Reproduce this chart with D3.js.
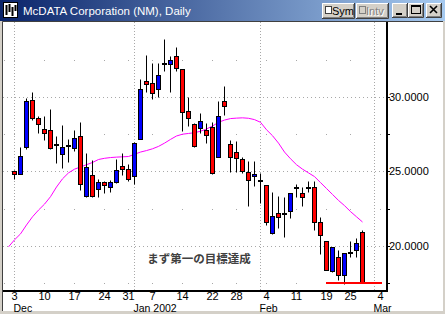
<!DOCTYPE html>
<html>
<head>
<meta charset="utf-8">
<script src="https://cdn.jsdelivr.net/npm/d3@7"></script>
<style>
  html, body { margin: 0; padding: 0; background: #d4d0c8; }
  svg { display: block; }
</style>
</head>
<body>
<div id="chart"></div>
<script>
// --- trading days (Nov 30 is only used by the moving average) ---
const novDays = [30]
const decDays = [3, 4, 5, 6, 7, 10, 11, 12, 13, 14, 17, 18, 19, 20, 21, 24, 26, 27, 28, 31]
const janDays = [2, 3, 4, 7, 8, 9, 10, 11, 14, 15, 16, 17, 18, 22, 23, 24, 25, 28, 29, 30, 31]
const febDays = [1, 4, 5, 6, 7, 8, 11, 12, 13, 14, 15, 19, 20, 21, 22, 25, 26, 27, 28]
const marDays = [1, 4]

const pad = n => String(n).padStart(2, '0')
const days = [
  ...novDays.map(d => '2001-11-' + pad(d)),
  ...decDays.map(d => '2001-12-' + pad(d)),
  ...janDays.map(d => '2002-01-' + pad(d)),
  ...febDays.map(d => '2002-02-' + pad(d)),
  ...marDays.map(d => '2002-03-' + pad(d))
]
const candleDays = days.slice(1, 60)  // Dec 3 .. Feb 27

// --- OHLC ---
const opens = [25.03, 24.83, 26.67, 29.80, 28.57, 27.85, 27.79, 26.78, 26.17, 26.70,
  26.56, 27.36, 23.36, 24.77, 23.80, 24.28, 23.94, 24.28, 25.37, 25.15,
  24.70, 27.16, 31.07, 30.92, 30.52, 32.21, 32.24, 32.75, 31.86, 29.06,
  28.17, 27.90, 27.79, 28.00, 25.99, 29.73, 26.85, 26.33, 25.84, 24.99,
  24.70, 24.38, 24.09, 20.89, 22.19, 22.13, 22.35, 23.86, 23.54, 23.87,
  23.94, 21.59, 20.34, 18.28, 19.28, 18.05, 19.51, 19.73, 20.92]
const highs = [25.10, 26.67, 29.95, 30.34, 28.72, 28.72, 29.20, 27.40, 28.12, 27.16,
  27.79, 28.34, 26.22, 25.77, 24.48, 24.35, 24.43, 25.82, 26.22, 25.50,
  26.95, 31.20, 32.82, 32.30, 32.30, 33.90, 32.77, 33.38, 31.86, 29.98,
  28.25, 28.90, 28.28, 28.34, 29.73, 30.74, 27.11, 27.05, 26.00, 25.67,
  25.67, 24.88, 24.09, 23.64, 23.38, 23.31, 23.58, 24.14, 23.94, 24.36,
  24.38, 21.93, 20.34, 19.91, 19.73, 19.51, 20.34, 20.52, 21.03]
const lows = [24.50, 24.80, 26.50, 28.46, 27.56, 27.11, 26.50, 25.57, 25.26, 25.60,
  26.40, 23.76, 23.27, 23.30, 23.27, 23.54, 23.60, 24.20, 24.77, 24.36,
  24.16, 27.16, 30.31, 29.87, 30.02, 31.77, 30.36, 31.74, 27.74, 28.05,
  26.66, 27.56, 26.89, 24.85, 25.99, 28.79, 24.99, 24.99, 24.90, 22.68,
  24.03, 22.87, 21.41, 20.79, 21.19, 20.56, 21.86, 23.31, 22.68, 23.60,
  21.03, 19.44, 18.39, 18.24, 17.72, 17.45, 19.28, 19.28, 17.50]
const closes = [24.80, 26.04, 29.73, 28.61, 28.17, 27.56, 26.56, 26.78, 26.62, 26.70,
  27.23, 24.14, 25.32, 23.38, 24.28, 24.10, 24.30, 25.10, 25.15, 24.50,
  26.89, 30.52, 30.85, 30.25, 31.48, 32.21, 32.48, 31.93, 28.97, 28.57,
  26.73, 28.39, 27.45, 24.88, 28.72, 29.42, 25.99, 25.93, 25.03, 24.43,
  24.81, 24.38, 21.63, 21.97, 21.93, 22.13, 23.58, 23.86, 23.27, 23.87,
  21.59, 20.74, 18.39, 19.91, 18.05, 19.51, 19.51, 20.22, 17.54]

// moving average, Nov 30 .. Feb 27
const maValues = [19.93,
  20.40, 20.80, 21.40, 21.95, 22.40, 22.80, 23.30, 23.95, 24.50, 24.90,
  25.15, 25.30, 25.45, 25.60, 25.80, 25.88, 25.93, 25.96, 25.98, 26.00,
  26.15, 26.30, 26.40, 26.52, 26.68, 26.90, 27.15, 27.38, 27.50, 27.55,
  27.60, 27.70, 27.85, 28.05, 28.30, 28.45, 28.55, 28.58, 28.60, 28.57,
  28.48, 28.30, 27.80, 27.40, 26.90, 26.30, 25.85, 25.45, 25.15, 24.90,
  24.65, 24.25, 23.85, 23.45, 23.05, 22.70, 22.30, 21.95, 21.60]

const weekStarts = ['2001-12-03', '2001-12-10', '2001-12-17', '2001-12-24', '2001-12-31',
  '2002-01-07', '2002-01-14', '2002-01-22', '2002-01-28', '2002-02-04', '2002-02-11',
  '2002-02-19', '2002-02-25', '2002-03-04']
const monthStarts = ['2001-12-03', '2002-01-02', '2002-02-01', '2002-03-01']
const monthLabels = ['Dec', 'Jan 2002', 'Feb', 'Mar']
const majorLevels = [20, 25, 30]
const minorLevels = [17.5, 22.5, 27.5, 32.5]

const support = { from: '2002-02-19', to: '2002-03-04', price: 17.5 }
const note = { text: 'まず第一の目標達成', day: '2002-01-17', price: 19.15 }
const title = 'McDATA Corporation (NM), Daily'

// --- layout ---
const width = 445
const height = 314
const plot = { left: 3, top: 22, right: 387, bottom: 291 }
const font = '"Liberation Sans", Arial, sans-serif'

const svg = d3.select('#chart').append('svg')
  .attr('width', width)
  .attr('height', height)

// --- window chrome ---
const grad = svg.append('defs').append('linearGradient').attr('id', 'tb')
grad.append('stop').attr('offset', '0%').attr('stop-color', '#0a246a')
grad.append('stop').attr('offset', '100%').attr('stop-color', '#a6caf0')

svg.append('rect').attr('width', width).attr('height', height).attr('fill', '#d4d0c8')
svg.append('rect').attr('width', width).attr('height', 21).attr('fill', 'url(#tb)')

const icon = svg.append('g')
icon.append('rect').attr('x', 3.5).attr('y', 2.5).attr('width', 14).attr('height', 15)
  .attr('fill', '#fff').attr('stroke', '#000')
icon.append('path')
  .attr('d', 'M6.5,5V15M9.5,4V12M12.5,7V16M15.5,5V11')
  .attr('stroke', '#000').attr('stroke-width', 2)

svg.append('text')
  .attr('x', 23).attr('y', 15)
  .attr('fill', '#fff')
  .style('font', '11.5px ' + font)
  .text(title)

function button(bx, by, bw, bh) {
  const g = svg.append('g')
  g.append('rect').attr('x', bx).attr('y', by).attr('width', bw).attr('height', bh).attr('fill', '#d4d0c8')
  g.append('path').attr('d', `M${bx + 0.5},${by + bh - 1}V${by + 0.5}H${bx + bw - 1}`)
    .attr('stroke', '#fff').attr('fill', 'none')
  g.append('path').attr('d', `M${bx},${by + bh - 0.5}H${bx + bw - 0.5}V${by}`)
    .attr('stroke', '#404040').attr('fill', 'none')
  g.append('path').attr('d', `M${bx + 1},${by + bh - 1.5}H${bx + bw - 1.5}V${by + 1}`)
    .attr('stroke', '#808080').attr('fill', 'none')
  return g
}

const sym = button(322, 3, 33, 16)
sym.append('rect').attr('x', 325.5).attr('y', 6.5).attr('width', 6).attr('height', 7)
  .attr('fill', '#fff').attr('stroke', '#404040')
sym.append('text').attr('x', 332).attr('y', 15).style('font', '11px ' + font).text('Sym')

const intv = button(356, 3, 33, 16)
intv.append('rect').attr('x', 359.5).attr('y', 6.5).attr('width', 6).attr('height', 7)
  .attr('fill', '#d4d0c8').attr('stroke', '#808080')
intv.append('text').attr('x', 367).attr('y', 16).attr('fill', '#fff').style('font', '11px ' + font).text('Intv')
intv.append('text').attr('x', 366).attr('y', 15).attr('fill', '#808080').style('font', '11px ' + font).text('Intv')

const minB = button(392, 3, 16, 15)
minB.append('rect').attr('x', 396).attr('y', 13).attr('width', 6).attr('height', 2).attr('fill', '#000')
const maxB = button(408, 3, 16, 15)
maxB.append('rect').attr('x', 411.5).attr('y', 5.5).attr('width', 9).attr('height', 8)
  .attr('fill', 'none').attr('stroke', '#000')
maxB.append('rect').attr('x', 411).attr('y', 5).attr('width', 10).attr('height', 2).attr('fill', '#000')
const closeB = button(426, 3, 16, 15)
closeB.append('path').attr('d', 'M430,6L437,13M437,6L430,13')
  .attr('stroke', '#000').attr('stroke-width', 1.6)

// --- chart panel ---
svg.append('rect').attr('x', plot.left).attr('y', plot.top)
  .attr('width', 440).attr('height', 289).attr('fill', '#fff')
svg.append('path').attr('d', `M2.5,311V21.5H443`).attr('stroke', '#404040').attr('fill', 'none')

const x = d3.scalePoint()
  .domain(days)
  .range([8.5, 8.5 + 6 * (days.length - 1)])

const y = d3.scaleLinear()
  .domain([17.5, 30])
  .range([283, 97])

const py = v => Math.round(y(v)) + 0.5

// --- grid ---
const grid = svg.append('g').attr('stroke', '#a8a8a8').attr('fill', 'none')
grid.selectAll('.major')
  .data(majorLevels)
  .join('line')
    .attr('x1', plot.left).attr('x2', plot.right - 1)
    .attr('y1', d => py(d)).attr('y2', d => py(d))
    .attr('stroke-dasharray', '1,3')
grid.selectAll('.month')
  .data(monthStarts)
  .join('line')
    .attr('x1', d => x(d)).attr('x2', d => x(d))
    .attr('y1', plot.top).attr('y2', plot.bottom - 1)
    .attr('stroke-dasharray', '1,2')

const dotXs = [4].concat(weekStarts.map(d => x(d) - 0.5))
const dots = []
minorLevels.forEach(v => dotXs.forEach(dx => dots.push([dx, v])))
svg.append('g').selectAll('rect')
  .data(dots)
  .join('rect')
    .attr('x', d => d[0]).attr('y', d => Math.round(y(d[1])))
    .attr('width', 1).attr('height', 1)
    .attr('fill', '#a8a8a8')

// --- moving average ---
const line = d3.line()
  .x((d, i) => x(days[i]))
  .y(d => y(d))
svg.append('path')
  .datum(maValues)
  .attr('d', line)
  .attr('fill', 'none')
  .attr('stroke', '#ff00ff')
  .attr('stroke-width', 1)

// --- candles ---
const candles = candleDays.map((d, i) => ({
  day: d, o: opens[i], h: highs[i], l: lows[i], c: closes[i]
}))

const cg = svg.append('g')
const candle = cg.selectAll('g')
  .data(candles)
  .join('g')

candle.append('line')
  .attr('x1', d => x(d.day)).attr('x2', d => x(d.day))
  .attr('y1', d => py(d.h)).attr('y2', d => py(d.l))
  .attr('stroke', '#000')

candle.filter(d => d.o !== d.c).append('rect')
  .attr('x', d => x(d.day) - 2)
  .attr('width', 4)
  .attr('y', d => py(Math.max(d.o, d.c)))
  .attr('height', d => Math.max(1, py(Math.min(d.o, d.c)) - py(Math.max(d.o, d.c))))
  .attr('fill', d => d.c > d.o ? '#0000ff' : '#ff0000')
  .attr('stroke', '#000')

candle.filter(d => d.o === d.c).append('rect')
  .attr('x', d => x(d.day) - 2.5)
  .attr('width', 5)
  .attr('y', d => Math.round(y(d.c)) - 1)
  .attr('height', 2)
  .attr('fill', '#000')

// --- support line ---
svg.append('line')
  .attr('x1', x(support.from) - 0.5).attr('x2', x(support.to) + 1.5)
  .attr('y1', Math.round(y(support.price))).attr('y2', Math.round(y(support.price)))
  .attr('stroke', '#ff0000')
  .attr('stroke-width', 2)

// --- annotation ---
svg.append('text')
  .attr('x', x(note.day) - 1.5)
  .attr('y', y(note.price))
  .attr('dy', '0.38em')
  .attr('text-anchor', 'middle')
  .attr('fill', '#404040')
  .style('font', 'bold 11.5px "Noto Sans CJK JP", sans-serif')
  .text(note.text)

// --- axes ---
svg.append('path')
  .attr('d', `M${plot.left},${plot.bottom}H${plot.right + 1}M${plot.right},${plot.top}V${plot.bottom + 1}`)
  .attr('stroke', '#000')
  .attr('stroke-width', 2)
  .attr('fill', 'none')

svg.append('g').selectAll('line')
  .data(majorLevels.concat(minorLevels.slice(0, 3)))
  .join('line')
    .attr('x1', plot.right).attr('x2', plot.right + 3)
    .attr('y1', d => py(d)).attr('y2', d => py(d))
    .attr('stroke', '#000')

svg.append('g').selectAll('text')
  .data(majorLevels)
  .join('text')
    .attr('x', 389)
    .attr('y', d => Math.round(y(d)) + 4)
    .style('font', '11px ' + font)
    .text(d => d3.format('.4f')(d))

svg.append('g').selectAll('text')
  .data(weekStarts)
  .join('text')
    .attr('x', d => x(d))
    .attr('y', 300)
    .attr('text-anchor', 'middle')
    .style('font', '11px ' + font)
    .text(d => +d.slice(8))

svg.append('g').selectAll('text')
  .data(monthStarts)
  .join('text')
    .attr('x', d => x(d) - 1)
    .attr('y', 311.5)
    .style('font', '10.5px ' + font)
    .text((d, i) => monthLabels[i])
</script>
</body>
</html>
